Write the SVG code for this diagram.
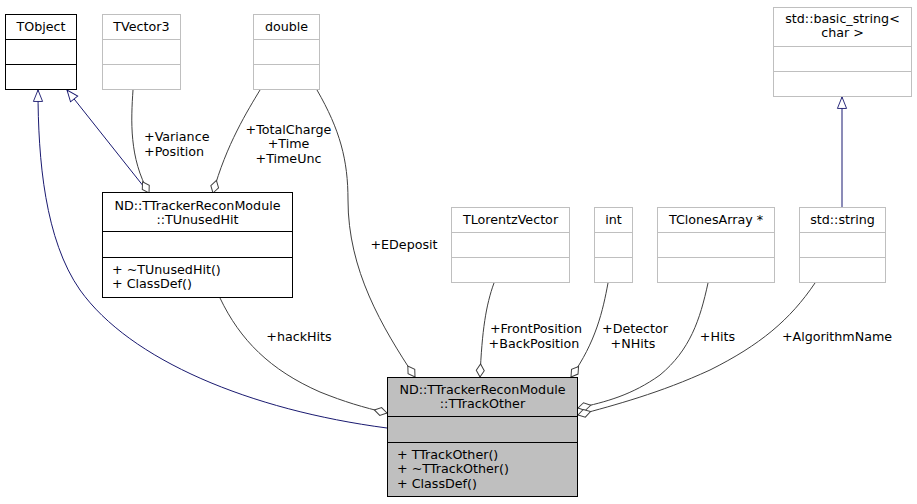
<svg xmlns="http://www.w3.org/2000/svg" width="917" height="504" viewBox="0 0 917 504">
<style>
text{font-family:"DejaVu Sans","Liberation Sans",sans-serif;font-size:12.7px;fill:#000}
.c{text-anchor:middle}
.blk{fill:#fff;stroke:#000;stroke-width:1}
.cur{fill:#bfbfbf;stroke:#000;stroke-width:1}
.gry{fill:#fff;stroke:#bfbfbf;stroke-width:1}
.lb{stroke:#000;stroke-width:1}
.lg{stroke:#bfbfbf;stroke-width:1}
.agg{fill:none;stroke:#404040;stroke-width:1;marker-end:url(#dia)}
.inh{fill:none;stroke:#191970;stroke-width:1;marker-end:url(#tri)}
</style>
<defs>
<marker id="dia" markerUnits="userSpaceOnUse" markerWidth="16" markerHeight="10" viewBox="-14 -5 15 10" refX="0" refY="0" orient="auto" overflow="visible">
<path d="M0,0 L-6.5,-4 L-13,0 L-6.5,4 Z" fill="#fff" stroke="#404040" stroke-width="1"/>
</marker>
<marker id="tri" markerUnits="userSpaceOnUse" markerWidth="13" markerHeight="11" viewBox="-12 -6 13 12" refX="0" refY="0" orient="auto" overflow="visible">
<path d="M0,0 L-12.5,-5 L-12.5,5 Z" fill="#fff" stroke="#191970" stroke-width="1"/>
</marker>
</defs>
<rect width="917" height="504" fill="#fff"/>

<g id="edges">
<path class="inh" d="M387,428 C250,410 130,360 80,290 C45,240 38,160 38,90"/>
<path class="inh" d="M148,192 L67,90"/>
<path class="inh" d="M842,207 L842,97"/>
<path class="agg" d="M133,90 C131,120 129,158 149,193"/>
<text x="144" y="141">+Variance</text>
<text x="144" y="155.5">+Position</text>
<path class="agg" d="M260,90 C248,110 226,145 213,193"/>
<text class="c" x="288.5" y="133.5">+TotalCharge</text>
<text class="c" x="288.5" y="148">+Time</text>
<text class="c" x="288.5" y="162.5">+TimeUnc</text>
<path class="agg" d="M317,90 C340,130 348,160 348,200 C348,270 382,327 415,377"/>
<text class="c" x="404" y="249">+EDeposit</text>
<path class="agg" d="M220,298 C240,340 270,370 320,392 C345,402 362,407 387,413"/>
<text class="c" x="299" y="341">+hackHits</text>
<path class="agg" d="M494,283 C486,305 482,330 480,377"/>
<text class="c" x="536" y="333">+FrontPosition</text>
<text class="c" x="534" y="347.5">+BackPosition</text>
<path class="agg" d="M608,283 C603,310 596,342 571,377"/>
<text class="c" x="635" y="333">+Detector</text>
<text class="c" x="633" y="347.5">+NHits</text>
<path class="agg" d="M708,283 C700,320 690,350 660,375 C632,395 606,402 578,408"/>
<text class="c" x="717.5" y="341">+Hits</text>
<path class="agg" d="M815,283 C790,320 760,345 710,370 C660,393 615,405 578,415"/>
<text class="c" x="837" y="341">+AlgorithmName</text>
</g>

<g id="node-TObject">
<rect class="blk" x="5.5" y="14.5" width="71" height="75"/>
<line class="lb" x1="5.5" y1="39.5" x2="76.5" y2="39.5"/>
<line class="lb" x1="5.5" y1="64.5" x2="76.5" y2="64.5"/>
<text class="c" x="41" y="30.5">TObject</text>
</g>

<g id="node-TVector3">
<rect class="gry" x="102.5" y="14.5" width="78" height="75"/>
<line class="lg" x1="102.5" y1="39.5" x2="180.5" y2="39.5"/>
<line class="lg" x1="102.5" y1="64.5" x2="180.5" y2="64.5"/>
<text class="c" x="141.5" y="30.5">TVector3</text>
</g>

<g id="node-double">
<rect class="gry" x="253.5" y="14.5" width="66" height="75"/>
<line class="lg" x1="253.5" y1="39.5" x2="319.5" y2="39.5"/>
<line class="lg" x1="253.5" y1="64.5" x2="319.5" y2="64.5"/>
<text class="c" x="286.5" y="30.5">double</text>
</g>

<g id="node-basic_string">
<rect class="gry" x="773.5" y="7.5" width="138" height="89"/>
<line class="lg" x1="773.5" y1="46.5" x2="911.5" y2="46.5"/>
<line class="lg" x1="773.5" y1="71.5" x2="911.5" y2="71.5"/>
<text class="c" x="842.5" y="23">std::basic_string&lt;</text>
<text class="c" x="842.5" y="37">char &gt;</text>
</g>

<g id="node-TUnusedHit">
<rect class="blk" x="102.5" y="192.5" width="190" height="105"/>
<line class="lb" x1="102.5" y1="231.5" x2="292.5" y2="231.5"/>
<line class="lb" x1="102.5" y1="257.5" x2="292.5" y2="257.5"/>
<text class="c" x="197.5" y="209.5">ND::TTrackerReconModule</text>
<text class="c" x="197.5" y="223.5">::TUnusedHit</text>
<text x="112" y="273.5">+ ~TUnusedHit()</text>
<text x="112" y="288">+ ClassDef()</text>
</g>

<g id="node-TLorentzVector">
<rect class="gry" x="451.5" y="207.5" width="118" height="75"/>
<line class="lg" x1="451.5" y1="232.5" x2="569.5" y2="232.5"/>
<line class="lg" x1="451.5" y1="257.5" x2="569.5" y2="257.5"/>
<text class="c" x="510.5" y="223.5">TLorentzVector</text>
</g>

<g id="node-int">
<rect class="gry" x="594.5" y="207.5" width="38" height="75"/>
<line class="lg" x1="594.5" y1="232.5" x2="632.5" y2="232.5"/>
<line class="lg" x1="594.5" y1="257.5" x2="632.5" y2="257.5"/>
<text class="c" x="613.5" y="223.5">int</text>
</g>

<g id="node-TClonesArray">
<rect class="gry" x="657.5" y="207.5" width="117" height="75"/>
<line class="lg" x1="657.5" y1="232.5" x2="774.5" y2="232.5"/>
<line class="lg" x1="657.5" y1="257.5" x2="774.5" y2="257.5"/>
<text class="c" x="716" y="223.5">TClonesArray *</text>
</g>

<g id="node-std_string">
<rect class="gry" x="799.5" y="207.5" width="86" height="75"/>
<line class="lg" x1="799.5" y1="232.5" x2="885.5" y2="232.5"/>
<line class="lg" x1="799.5" y1="257.5" x2="885.5" y2="257.5"/>
<text class="c" x="842.5" y="223.5">std::string</text>
</g>

<g id="node-TTrackOther">
<rect class="cur" x="387.5" y="377.5" width="190" height="119"/>
<line class="lb" x1="387.5" y1="416.5" x2="577.5" y2="416.5"/>
<line class="lb" x1="387.5" y1="442.5" x2="577.5" y2="442.5"/>
<text class="c" x="482.5" y="393.5">ND::TTrackerReconModule</text>
<text class="c" x="482.5" y="408">::TTrackOther</text>
<text x="397" y="458.5">+ TTrackOther()</text>
<text x="397" y="473">+ ~TTrackOther()</text>
<text x="397" y="487.5">+ ClassDef()</text>
</g>
</svg>
